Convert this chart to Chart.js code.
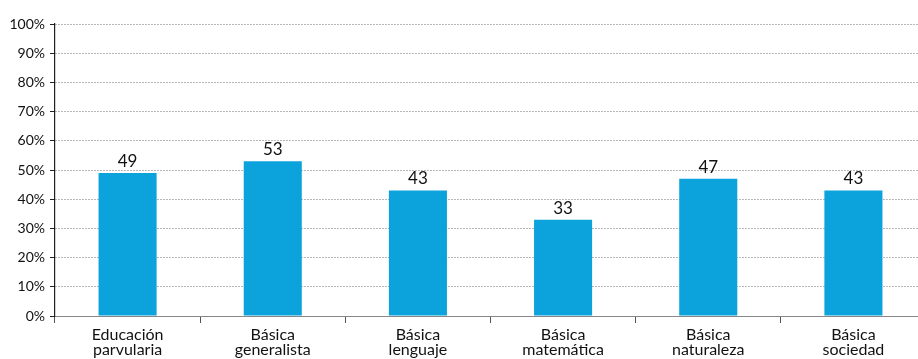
<!DOCTYPE html>
<html><head><meta charset="utf-8">
<script src="https://cdn.jsdelivr.net/npm/chart.js@4/dist/chart.umd.min.js"></script>
<style>
html,body{margin:0;padding:0;background:#fff;overflow:hidden;}
#wrap{width:926px;height:359px;position:relative;}
</style></head><body>
<div id="wrap"><canvas id="c" width="926" height="359"></canvas></div>
<script>
const categories = [["Educación","parvularia"],["Básica","generalista"],["Básica","lenguaje"],["Básica","matemática"],["Básica","naturaleza"],["Básica","sociedad"]];
const values = [49, 53, 43, 33, 47, 43];
const yTicks = [0,10,20,30,40,50,60,70,80,90,100];
const FONT = "Lato,'Open Sans',sans-serif";

const labelPlugin = {
  id:'vals',
  afterDatasetsDraw(chart){
    const ctx = chart.ctx;
    const meta = chart.getDatasetMeta(0);
    ctx.save();
    ctx.font = "17px " + FONT;
    ctx.fillStyle = "#111";
    ctx.textAlign = "center";
    ctx.textBaseline = "bottom";
    meta.data.forEach((bar,i)=>{
      ctx.fillText(String(values[i]), bar.x, bar.y - 3);
    });
    ctx.restore();
  }
};

new Chart(document.getElementById('c'), {
  type:'bar',
  data:{labels:categories, datasets:[{data:values, backgroundColor:'#0ca3dc', borderWidth:0, categoryPercentage:0.4, barPercentage:1}]},
  options:{
    responsive:false, animation:false,
    layout:{padding:{top:24,right:0,bottom:0,left:0}},
    plugins:{legend:{display:false}, tooltip:{enabled:false}},
    scales:{
      x:{
        afterFit(s){ s.height = 43; },
        grid:{offset:true, drawOnChartArea:false, drawTicks:true, tickLength:7, tickColor:'#555'},
        border:{color:'#888', width:1},
        ticks:{color:'#111', font:{family:FONT, size:16, lineHeight:0.95}, padding:4, maxRotation:0, autoSkip:false}
      },
      y:{
        min:0, max:100,
        afterFit(s){ s.width = 55; },
        afterBuildTicks(s){ s.ticks = yTicks.map(v=>({value:v})); },
        grid:{color:'#a0a0a0', tickLength:5, tickColor:'#222', tickBorderDash:[], tickWidth:1},
        border:{color:'#222', width:1.2, dash:[1.5,1.5]},
        ticks:{color:'#111', font:{family:FONT, size:14}, padding:5, callback:v=>v+'%'}
      }
    }
  },
  plugins:[labelPlugin]
});
</script></body></html>
